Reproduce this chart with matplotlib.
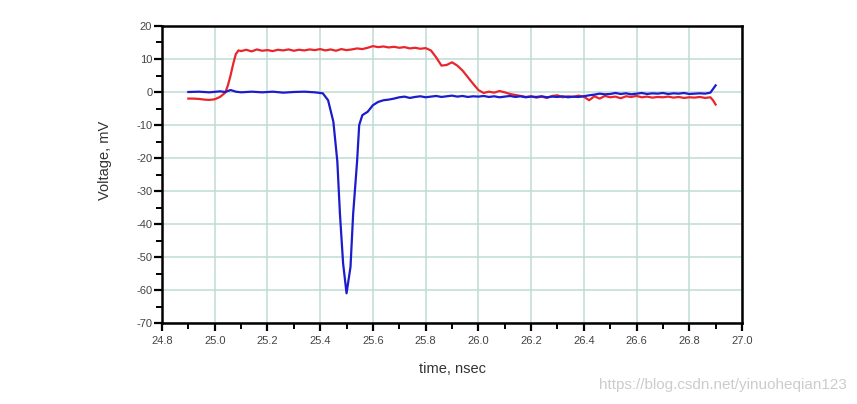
import matplotlib
matplotlib.use("Agg")
import matplotlib.pyplot as plt
from matplotlib.ticker import MultipleLocator

plt.rcParams['font.family'] = ['Liberation Sans', 'DejaVu Sans']

red_t = [24.90, 24.92, 24.94, 24.96, 24.98, 25.00, 25.02, 25.04, 25.05, 25.06, 25.07, 25.08, 25.09,
         25.10, 25.12, 25.14, 25.16, 25.18, 25.20, 25.22, 25.24, 25.26, 25.28, 25.30, 25.32, 25.34,
         25.36, 25.38, 25.40, 25.42, 25.44, 25.46, 25.48, 25.50, 25.52, 25.54, 25.56, 25.58, 25.60,
         25.62, 25.64, 25.66, 25.68, 25.70, 25.72, 25.74, 25.76, 25.78, 25.80, 25.82, 25.84, 25.86,
         25.88, 25.90, 25.92, 25.94, 25.96, 25.98, 26.00, 26.02, 26.04, 26.06, 26.08, 26.10, 26.12,
         26.14, 26.16, 26.18, 26.20, 26.22, 26.24, 26.26, 26.28, 26.30, 26.32, 26.34, 26.36, 26.38,
         26.40, 26.42, 26.44, 26.46, 26.48, 26.50, 26.52, 26.54, 26.56, 26.58, 26.60, 26.62, 26.64,
         26.66, 26.68, 26.70, 26.72, 26.74, 26.76, 26.78, 26.80, 26.82, 26.84, 26.86, 26.88, 26.89, 26.90]
red_v = [-2.0, -2.0, -2.1, -2.3, -2.4, -2.2, -1.5, -0.2, 2.0, 5.0, 8.5, 11.5, 12.6,
         12.4, 12.8, 12.3, 12.9, 12.5, 12.7, 12.4, 12.8, 12.6, 12.9, 12.5, 12.8, 12.6,
         12.9, 12.7, 13.0, 12.6, 12.9, 12.5, 13.0, 12.7, 12.9, 13.2, 13.0, 13.4, 13.9,
         13.6, 13.8, 13.5, 13.7, 13.4, 13.6, 13.2, 13.4, 13.1, 13.3, 12.6, 10.5, 8.0,
         8.2, 9.0, 8.0, 6.5, 4.5, 2.5, 0.6, -0.3, 0.1, -0.2, 0.3, -0.1, -0.6,
         -0.9, -1.2, -1.5, -1.3, -1.7, -1.4, -1.8, -1.2, -1.0, -1.6, -1.3, -1.5, -1.1,
         -1.4, -2.5, -1.3, -2.0, -1.2, -1.6, -1.4, -1.9, -1.3, -1.5, -1.2, -1.6, -1.4,
         -1.7, -1.5, -1.6, -1.4, -1.7, -1.5, -1.8, -1.6, -1.7, -1.5, -1.8, -1.6, -2.5, -3.8]

blue_t = [24.90, 24.94, 24.98, 25.02, 25.04, 25.06, 25.08, 25.10, 25.14, 25.18, 25.22, 25.26,
          25.30, 25.34, 25.38, 25.41, 25.43, 25.45, 25.465, 25.475, 25.487, 25.50, 25.515, 25.525,
          25.54, 25.548, 25.56, 25.58, 25.60, 25.62, 25.64, 25.66, 25.68, 25.70, 25.72, 25.74,
          25.76, 25.78, 25.80, 25.82, 25.84, 25.86, 25.88, 25.90, 25.92, 25.94, 25.96, 25.98,
          26.00, 26.02, 26.04, 26.06, 26.08, 26.10, 26.12, 26.14, 26.16, 26.18, 26.20, 26.22,
          26.24, 26.26, 26.28, 26.30, 26.32, 26.34, 26.36, 26.38, 26.40, 26.42, 26.44, 26.46,
          26.48, 26.50, 26.52, 26.54, 26.56, 26.58, 26.60, 26.62, 26.64, 26.66, 26.68, 26.70,
          26.72, 26.74, 26.76, 26.78, 26.80, 26.82, 26.84, 26.86, 26.88, 26.90]
blue_v = [0.0, 0.1, -0.1, 0.2, 0.0, 0.6, 0.1, -0.1, 0.1, -0.1, 0.1, -0.2,
          0.0, 0.1, -0.1, -0.4, -2.5, -9.0, -21.0, -37.0, -52.0, -61.0, -53.0, -37.0,
          -21.0, -10.0, -7.0, -6.0, -4.0, -3.0, -2.5, -2.3, -2.0, -1.6, -1.4, -1.8,
          -1.5, -1.3, -1.6, -1.4, -1.2, -1.5, -1.3, -1.1, -1.4, -1.2, -1.5, -1.3,
          -1.4, -1.2, -1.5, -1.3, -1.6, -1.4, -1.2, -1.5, -1.3, -1.6, -1.4, -1.5,
          -1.3, -1.6, -1.4, -1.5, -1.3, -1.6, -1.4, -1.5, -1.3, -1.0, -0.8, -0.5,
          -0.7, -0.6, -0.3, -0.6, -0.4, -0.7, -0.5, -0.3, -0.6, -0.4, -0.5, -0.3,
          -0.6, -0.4, -0.5, -0.3, -0.6, -0.5, -0.4, -0.5, -0.2, 2.0]

x_ticks = [24.8, 25.0, 25.2, 25.4, 25.6, 25.8, 26.0, 26.2, 26.4, 26.6, 26.8, 27.0]
y_ticks = [20, 10, 0, -10, -20, -30, -40, -50, -60, -70]

fig = plt.figure(figsize=(8.57, 4.04), dpi=100)
ax = fig.add_axes([162/857, 81/404, 580/857, 297/404])

ax.plot(red_t, red_v, color="#e8262b", lw=1.6, zorder=3)
ax.plot(blue_t, blue_v, color="#1c1ccc", lw=1.6, zorder=3)

ax.set_xlim(24.8, 27.0)
ax.set_ylim(-70, 20)
ax.set_xticks(x_ticks)
ax.set_xticklabels([f"{v:.1f}" for v in x_ticks])
ax.set_yticks(y_ticks)
ax.set_yticklabels([str(v) for v in y_ticks])
ax.xaxis.set_minor_locator(MultipleLocator(0.1))
ax.yaxis.set_minor_locator(MultipleLocator(5))
ax.grid(True, which="major", color="#bfdcd4", lw=1.1, zorder=0)
for s in ax.spines.values():
    s.set_linewidth(1.8)
    s.set_color("black")
ax.tick_params(which="major", direction="out", length=6, width=1.6, labelsize=8,
               labelcolor="#444444", top=False, right=False)
ax.tick_params(which="minor", direction="out", length=4, width=1.4, top=False, right=False)
ax.tick_params(axis="y", pad=1)
ax.tick_params(axis="x", pad=3)

fig.text(105/857, 1 - 160/404, "Voltage, mV", rotation=90, ha="center", va="center",
         fontsize=10.5, color="#333333")
fig.text(452/857, 1 - 369/404, "time, nsec", ha="center", va="center",
         fontsize=10.5, color="#333333")
fig.text(847/857, 1 - 385/404, "https://blog.csdn.net/yinuoheqian123", ha="right", va="center",
         fontsize=11, color="#cccccc")

fig.savefig("out.png", dpi=100)
